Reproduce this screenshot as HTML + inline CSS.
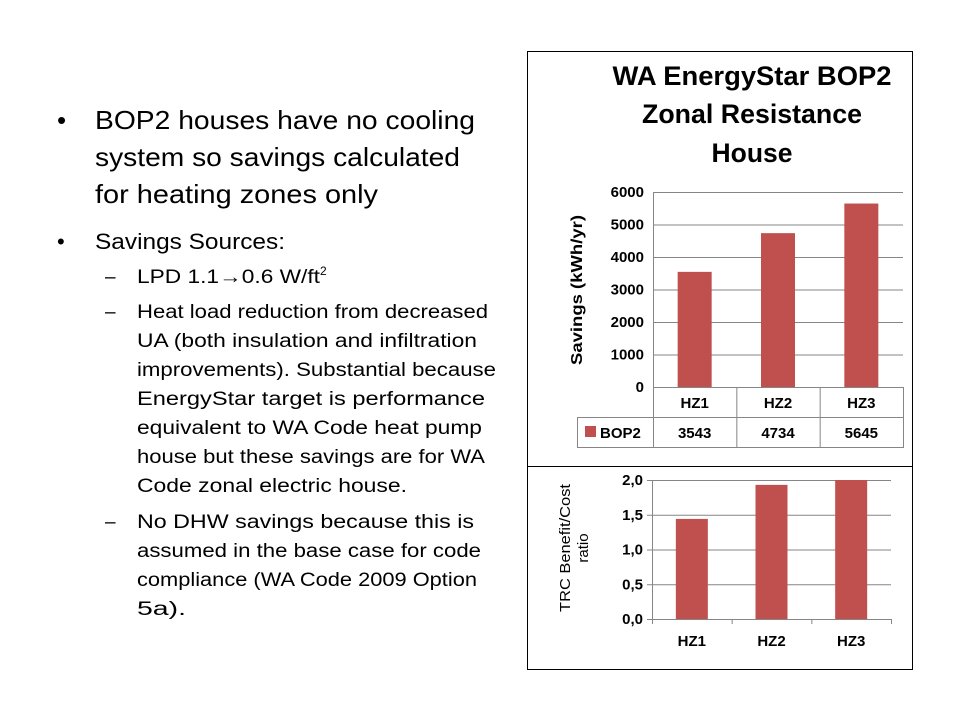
<!DOCTYPE html>
<html><head><meta charset="utf-8"><style>
html,body{margin:0;padding:0;background:#fff;}
svg{display:block;font-family:"Liberation Sans",sans-serif;}
</style></head><body>
<svg id="s" width="960" height="720" viewBox="0 0 960 720">
<g fill="#000">
  <text x="57" y="129" font-size="26">•</text>
  <text x="95" y="129" font-size="26" textLength="380" lengthAdjust="spacingAndGlyphs">BOP2 houses have no cooling</text>
  <text x="95" y="166" font-size="26" textLength="365" lengthAdjust="spacingAndGlyphs">system so savings calculated</text>
  <text x="95" y="203" font-size="26" textLength="283" lengthAdjust="spacingAndGlyphs">for heating zones only</text>
  <text x="57" y="249" font-size="22">•</text>
  <text x="95" y="249" font-size="22" textLength="190" lengthAdjust="spacingAndGlyphs">Savings Sources:</text>
  <g font-size="19">
  <text x="105" y="283">–</text>
  <text x="137" y="283" textLength="183" lengthAdjust="spacingAndGlyphs">LPD 1.1→0.6 W/ft</text>
  <text x="320" y="275" font-size="12">2</text>
  <text x="105" y="318">–</text>
  <text x="137" y="318" textLength="351" lengthAdjust="spacingAndGlyphs">Heat load reduction from decreased</text>
  <text x="137" y="347" textLength="340" lengthAdjust="spacingAndGlyphs">UA (both insulation and infiltration</text>
  <text x="137" y="376" textLength="359" lengthAdjust="spacingAndGlyphs">improvements).  Substantial because</text>
  <text x="137" y="405" textLength="348" lengthAdjust="spacingAndGlyphs">EnergyStar target is performance</text>
  <text x="137" y="434" textLength="345" lengthAdjust="spacingAndGlyphs">equivalent to WA Code heat pump</text>
  <text x="137" y="463" textLength="348" lengthAdjust="spacingAndGlyphs">house but these savings are for WA</text>
  <text x="137" y="492" textLength="270" lengthAdjust="spacingAndGlyphs">Code zonal electric house.</text>
  <text x="105" y="528">–</text>
  <text x="137" y="528" textLength="337" lengthAdjust="spacingAndGlyphs">No DHW savings because this is</text>
  <text x="137" y="557" textLength="344" lengthAdjust="spacingAndGlyphs">assumed in the base case for code</text>
  <text x="137" y="586" textLength="340" lengthAdjust="spacingAndGlyphs">compliance (WA Code 2009 Option</text>
  <text x="137" y="615" textLength="49" lengthAdjust="spacingAndGlyphs">5a).</text>
  </g>
</g>
<rect x="527.5" y="51.5" width="385" height="415" fill="#fff" stroke="#000"/>
<rect x="527.5" y="466.5" width="385" height="203" fill="#fff" stroke="#000"/>
<g font-weight="bold" font-size="27" text-anchor="middle">
  <text x="752" y="85" textLength="279" lengthAdjust="spacingAndGlyphs">WA EnergyStar BOP2</text>
  <text x="752" y="123" textLength="220" lengthAdjust="spacingAndGlyphs">Zonal Resistance</text>
  <text x="752" y="162" textLength="81" lengthAdjust="spacingAndGlyphs">House</text>
</g>
<g id="c1"></g>
<g id="c2"></g>
</svg>
<script>
const categories = ["HZ1","HZ2","HZ3"];
const seriesName = "BOP2";
const savings = [3543, 4734, 5645];
const savingsTicks = [0,1000,2000,3000,4000,5000,6000];
const trcRatio = [1.44, 1.93, 2.0];
const trcTicks = ["0,0","0,5","1,0","1,5","2,0"];
const trcTickValues = [0,0.5,1.0,1.5,2.0];

const NS="http://www.w3.org/2000/svg";
function mk(parent, tag, attrs, text){
  const e=document.createElementNS(NS,tag);
  for(const k in attrs) e.setAttribute(k,attrs[k]);
  if(text!==undefined) e.textContent=text;
  parent.appendChild(e); return e;
}
const RED="#c0504d", GRID="#868686";

// Chart 1
(function(){
  const g=document.getElementById('c1');
  const x0=653,x1=903,yTop=192,yBot=387,max=6000;
  const y=v=>yBot-(v/max)*(yBot-yTop);
  const cw=(x1-x0)/categories.length;
  savingsTicks.forEach(t=>{
    const l=mk(g,'line',{x1:x0,x2:x1,y1:y(t)+0.5,y2:y(t)+0.5,stroke:GRID});
    
    
    const tx=mk(g,'text',{x:x0-9,y:y(t)+5,'text-anchor':'end','font-size':15,'font-weight':'bold'},String(t));
    
    
  });
  mk(g,'line',{x1:x0+0.5,x2:x0+0.5,y1:yTop,y2:yBot,stroke:GRID});
  savings.forEach((v,i)=>{
    const bw=34, bx=x0+cw*i+(cw-bw)/2;
    const r=mk(g,'rect',{x:bx,y:y(v),width:bw,height:yBot-y(v),fill:RED});
    
    
  });
  const tL=577, r1=387, r2=417, r3=447;
  mk(g,'rect',{x:tL+0.5,y:r2+0.5,width:x1-tL,height:r3-r2,fill:'none',stroke:GRID});
  mk(g,'line',{x1:x0+0.5,x2:x1,y1:r2+0.5,y2:r2+0.5,stroke:GRID});
  mk(g,'line',{x1:x1+0.5,x2:x1+0.5,y1:r1,y2:r3,stroke:GRID});
  for(let i=0;i<=categories.length;i++){
    mk(g,'line',{x1:x0+cw*i+0.5,x2:x0+cw*i+0.5,y1:r1,y2:r3,stroke:GRID});
  }
  categories.forEach((c,i)=>{
    const t=mk(g,'text',{x:x0+cw*(i+0.5),y:r1+21,'text-anchor':'middle','font-size':15,'font-weight':'bold'},c);
    
    
    const v=mk(g,'text',{x:x0+cw*(i+0.5),y:r2+21,'text-anchor':'middle','font-size':15,'font-weight':'bold'},String(savings[i]));
    
    
  });
  const lk=mk(g,'rect',{x:585,y:426,width:11,height:11,fill:RED});
  
  
  const lt=mk(g,'text',{x:600,y:438,'font-size':15,'font-weight':'bold'},seriesName);
  
  
  const yt=mk(g,'text',{x:0,y:0,transform:'translate(582,290) rotate(-90)','text-anchor':'middle','font-size':16,'font-weight':'bold',textLength:150,lengthAdjust:'spacingAndGlyphs'},'Savings (kWh/yr)');
  
  
})();

// Chart 2
(function(){
  const g=document.getElementById('c2');
  const x0=652,x1=891,yTop=480,yBot=619,max=2.0;
  const y=v=>yBot-(v/max)*(yBot-yTop);
  const cw=(x1-x0)/categories.length;
  trcTickValues.forEach((t,i)=>{
    const l=mk(g,'line',{x1:x0-5,x2:x1,y1:y(t)+0.5,y2:y(t)+0.5,stroke:GRID});
    
    
    const tx=mk(g,'text',{x:x0-9,y:y(t)+5,'text-anchor':'end','font-size':15,'font-weight':'bold'},trcTicks[i]);
    
    
  });
  mk(g,'line',{x1:x0+0.5,x2:x0+0.5,y1:yTop,y2:yBot+5,stroke:GRID});
  for(let i=1;i<=categories.length;i++) mk(g,'line',{x1:x0+cw*i+0.5,x2:x0+cw*i+0.5,y1:yBot,y2:yBot+5,stroke:GRID});
  trcRatio.forEach((v,i)=>{
    const bw=32, bx=x0+cw*i+(cw-bw)/2;
    const r=mk(g,'rect',{x:bx,y:y(v),width:bw,height:yBot-y(v),fill:RED});
    
    
    const t=mk(g,'text',{x:x0+cw*(i+0.5),y:646,'text-anchor':'middle','font-size':15,'font-weight':'bold'},categories[i]);
    
    
  });
  const yt=mk(g,'text',{x:0,y:0,transform:'translate(570,548) rotate(-90)','text-anchor':'middle','font-size':15,textLength:128,lengthAdjust:'spacingAndGlyphs'},'TRC Benefit/Cost');
  
  
  const yt2=mk(g,'text',{x:0,y:0,transform:'translate(588,548) rotate(-90)','text-anchor':'middle','font-size':15},'ratio');
  
  
})();
</script>
</body></html>
